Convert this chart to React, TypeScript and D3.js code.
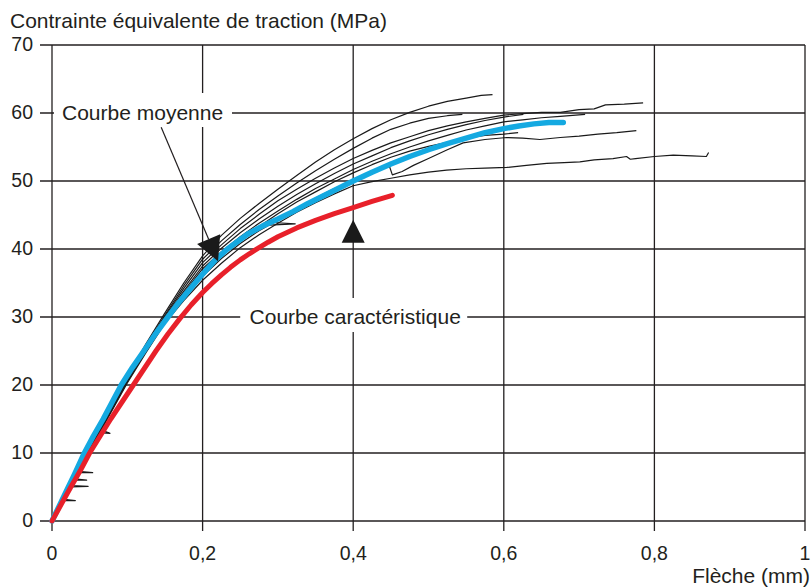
import React from "react";
import * as d3 from "d3";

// Individual flexural test curves: [deflection (mm), equivalent tensile stress (MPa)]
const testA: [number, number][] = [[0,0],[0.025,5.4],[0.05,10.9],[0.075,16.2],[0.1,21.3],[0.125,26.1],[0.15,30.6],[0.175,35],[0.2,39],[0.225,42],[0.25,44.5],[0.275,46.7],[0.3,48.8],[0.325,50.8],[0.35,52.8],[0.375,54.6],[0.4,56.2],[0.425,57.7],[0.45,59],[0.475,60.1],[0.5,61],[0.525,61.7],[0.55,62.2],[0.57,62.6],[0.585,62.7]];
const testB: [number, number][] = [[0,0],[0.025,5.4],[0.05,10.8],[0.075,16],[0.1,21.1],[0.125,25.8],[0.15,30.3],[0.175,34.6],[0.2,38.5],[0.225,41.2],[0.25,43.6],[0.275,45.8],[0.3,47.8],[0.325,49.7],[0.35,51.5],[0.375,53.2],[0.4,54.8],[0.425,56.3],[0.45,57.6],[0.475,58.5],[0.5,59.2],[0.525,59.6],[0.545,59.8]];
const testC: [number, number][] = [[0,0],[0.025,5.3],[0.05,10.7],[0.075,15.9],[0.1,21],[0.125,25.6],[0.15,30.1],[0.175,34.2],[0.2,38],[0.225,40.6],[0.25,43],[0.275,45.1],[0.3,47.1],[0.325,48.8],[0.35,50.4],[0.375,51.9],[0.4,53.3],[0.425,54.5],[0.45,55.6],[0.475,56.5],[0.5,57.4],[0.525,58.1],[0.55,58.7],[0.575,59.2],[0.6,59.7],[0.625,59.9],[0.65,60.1],[0.675,60.1],[0.7,60.5],[0.72,60.6],[0.735,61.2],[0.76,61.3],[0.785,61.5]];
const testD: [number, number][] = [[0,0],[0.025,5.2],[0.029,6],[0.046,6],[0.03,6.2],[0.05,10.5],[0.075,15.7],[0.1,20.8],[0.125,25.3],[0.15,29.7],[0.175,33.5],[0.2,37.1],[0.225,39.6],[0.25,41.8],[0.275,43.8],[0.3,45.6],[0.325,47.3],[0.35,48.9],[0.375,50.3],[0.4,51.7],[0.425,52.9],[0.45,54],[0.475,55],[0.5,55.9],[0.525,56.7],[0.55,57.5],[0.575,58.1],[0.6,58.7],[0.625,59],[0.65,59.3],[0.675,59.5],[0.708,59.8]];
const testE: [number, number][] = [[0,0],[0.025,5],[0.034,7.1],[0.054,7.1],[0.035,7.3],[0.05,10.3],[0.075,15.5],[0.1,20.5],[0.125,25],[0.15,29.3],[0.175,32.8],[0.2,36],[0.225,38.6],[0.25,40.8],[0.275,42.7],[0.288,43.5],[0.323,43.7],[0.293,43.9],[0.3,44.2],[0.325,45.9],[0.35,47.5],[0.375,48.9],[0.4,50.1],[0.425,51.3],[0.448,52.2],[0.452,50.9],[0.465,51.4],[0.48,52.3],[0.5,53.3],[0.525,54.6],[0.546,55.6],[0.575,56.1],[0.604,56.4],[0.625,56.3],[0.648,56.1],[0.675,56.4],[0.7,56.6],[0.725,56.9],[0.75,57.1],[0.776,57.4]];
const testF: [number, number][] = [[0,0],[0.015,3],[0.031,3],[0.016,3.2],[0.025,4.9],[0.05,10.2],[0.075,15.3],[0.1,20.3],[0.125,24.8],[0.15,29.1],[0.175,32.4],[0.2,35.4],[0.225,37.9],[0.25,40.2],[0.275,42.1],[0.3,43.8],[0.325,45.4],[0.35,46.8],[0.375,48.1],[0.4,49.3],[0.425,49.9],[0.45,50.4],[0.475,50.9],[0.5,51.3],[0.524,51.6],[0.55,51.8],[0.575,51.9],[0.604,52],[0.63,52.3],[0.657,52.6],[0.68,52.7],[0.701,52.8],[0.72,53.1],[0.745,53.3],[0.763,53.6],[0.768,53.2],[0.775,53.3],[0.8,53.6],[0.825,53.8],[0.85,53.7],[0.869,53.6],[0.872,54.2]];
const testG: [number, number][] = [[0,0],[0.025,5],[0.048,5.1],[0.026,5.2],[0.05,10.4],[0.075,15.6],[0.1,20.6],[0.125,25.1],[0.15,29.5],[0.175,33.1],[0.2,36.6],[0.225,39],[0.25,41.3],[0.275,43.3],[0.3,45.2],[0.325,46.9],[0.35,48.4],[0.375,49.9],[0.4,51.2],[0.425,52.4],[0.45,53.5],[0.475,54.4],[0.5,55.1],[0.525,55.7],[0.55,56.3],[0.575,56.7],[0.6,56.9],[0.619,57.1]];
const testH: [number, number][] = [[0,0],[0.025,5.3],[0.05,10.6],[0.062,13],[0.077,12.9],[0.065,13.4],[0.075,15.8],[0.1,20.9],[0.125,25.5],[0.15,29.9],[0.175,33.8],[0.2,37.5],[0.225,40.1],[0.25,42.4],[0.275,44.4],[0.3,46.3],[0.325,48],[0.35,49.6],[0.375,51.1],[0.4,52.5],[0.425,53.7],[0.45,54.9],[0.475,55.9],[0.5,56.8],[0.525,57.6],[0.55,58.3],[0.575,58.9],[0.6,59.4],[0.626,59.8]];

// Mean curve
const meanCurve: [number, number][] = [[0,0],[0.01,2.3],[0.02,4.6],[0.03,6.9],[0.043,10],[0.055,12.5],[0.068,15],[0.08,17.5],[0.092,20],[0.107,22.6],[0.122,25],[0.138,27.6],[0.154,30],[0.166,31.8],[0.178,33.4],[0.19,35],[0.2,36.3],[0.216,38.3],[0.233,40],[0.26,42.2],[0.28,43.4],[0.3,44.4],[0.32,45.5],[0.34,46.7],[0.36,47.8],[0.38,48.9],[0.4,50],[0.425,51.3],[0.45,52.5],[0.475,53.6],[0.5,54.6],[0.525,55.5],[0.55,56.3],[0.575,57.1],[0.6,57.7],[0.62,58.1],[0.64,58.4],[0.66,58.6],[0.679,58.6]];

// Characteristic curve
const charCurve: [number, number][] = [[0,0],[0.013,2.6],[0.025,5],[0.038,7.5],[0.05,10],[0.064,12.5],[0.078,15],[0.093,17.5],[0.108,20],[0.123,22.5],[0.138,25],[0.154,27.5],[0.17,29.8],[0.185,31.8],[0.2,33.6],[0.212,34.9],[0.225,36.2],[0.237,37.3],[0.25,38.4],[0.262,39.3],[0.275,40.2],[0.287,41],[0.3,41.8],[0.325,43.1],[0.35,44.2],[0.375,45.2],[0.4,46.1],[0.425,47],[0.452,47.9]];

const testCurves = [testA, testB, testC, testD, testE, testF, testG, testH];

const xTicks = [0, 0.2, 0.4, 0.6, 0.8, 1];
const yTicks = [0, 10, 20, 30, 40, 50, 60, 70];

const yTitle = "Contrainte équivalente de traction (MPa)";
const xTitle = "Flèche (mm)";
const meanLabel = "Courbe moyenne";
const charLabel = "Courbe caractéristique";

const W = 812;
const H = 587;
const FONT = "'Liberation Sans', Arial, Helvetica, sans-serif";
const INK = "#231f20";

export default function App() {
  const x = d3.scaleLinear().domain([0, 1]).range([52, 805]);
  const y = d3.scaleLinear().domain([0, 70]).range([521, 45]);
  const line = d3
    .line<[number, number]>()
    .x((d) => x(d[0]))
    .y((d) => y(d[1]));
  const fmt = (v: number) => (v === 0 || v === 1 ? String(v) : String(v).replace(".", ","));

  // Annotation geometry (data coordinates)
  const meanTip: [number, number] = [0.2205, 38.2];
  const meanStart: [number, number] = [0.145, 57.9];
  const tx = x(meanTip[0]);
  const ty = y(meanTip[1]);
  const sx = x(meanStart[0]);
  const sy = y(meanStart[1]);
  const ang = Math.atan2(ty - sy, tx - sx);
  const headLen = 24;
  const headHalf = 12.5;
  const bx = tx - headLen * Math.cos(ang);
  const by = ty - headLen * Math.sin(ang);
  const px = -Math.sin(ang);
  const py = Math.cos(ang);
  const meanHead = `${tx},${ty} ${bx + headHalf * px},${by + headHalf * py} ${bx - headHalf * px},${by - headHalf * py}`;

  const cTipX = x(0.4);
  const cTipY = y(44.3);
  const charHead = `${cTipX},${cTipY} ${cTipX - 11.5},${cTipY + 23} ${cTipX + 11.5},${cTipY + 23}`;

  return (
    <svg
      width={W}
      height={H}
      style={{ position: "absolute", left: 0, top: 0, background: "#fff" }}
      fontFamily={FONT}
    >
      <rect width={W} height={H} fill="#fff" />
      {/* grid and axes */}
      <g stroke={INK} strokeWidth={1.3}>
        {yTicks.map((t) => (
          <line key={"h" + t} x1={40} x2={x(1)} y1={y(t)} y2={y(t)} />
        ))}
        {xTicks.map((t) => (
          <line key={"v" + t} x1={x(t)} x2={x(t)} y1={y(70)} y2={y(0) + 10} />
        ))}
      </g>
      {/* label boxes masking the grid */}
      <rect x={x(0) + 2} y={y(60) - 20} width={178} height={34} fill="#fff" />
      <rect x={x(0.4) - 113} y={y(30) - 19} width={227} height={34} fill="#fff" />

      {/* test curves */}
      <g fill="none" stroke="#1a1a1a" strokeWidth={1.2} strokeLinejoin="round">
        {testCurves.map((c, i) => (
          <path key={i} d={line(c) || ""} />
        ))}
      </g>
      <path d={line(meanCurve) || ""} fill="none" stroke="#14a9e1" strokeWidth={5.5} strokeLinecap="round" strokeLinejoin="round" />
      <path d={line(charCurve) || ""} fill="none" stroke="#e8202a" strokeWidth={5} strokeLinecap="round" strokeLinejoin="round" />

      {/* annotations */}
      <line x1={sx} y1={sy} x2={bx} y2={by} stroke={INK} strokeWidth={1.2} />
      <polygon points={meanHead} fill="#1a1a1a" />
      <polygon points={charHead} fill="#1a1a1a" />
      <text x={x(0) + 10} y={y(60) + 6.5} fontSize={21} fill={INK}>
        {meanLabel}
      </text>
      <text x={x(0.4) + 2} y={y(30) + 7} fontSize={21} fill={INK} textAnchor="middle">
        {charLabel}
      </text>

      {/* tick labels */}
      <g fontSize={19.5} fill={INK}>
        {yTicks.map((t) => (
          <text key={"yl" + t} x={33} y={y(t) + 6} textAnchor="end">
            {fmt(t)}
          </text>
        ))}
        {xTicks.map((t) => (
          <text key={"xl" + t} x={x(t)} y={560} textAnchor="middle">
            {fmt(t)}
          </text>
        ))}
      </g>
      <text x={10} y={28} fontSize={21} fill={INK}>
        {yTitle}
      </text>
      <text x={810} y={583} fontSize={21} fill={INK} textAnchor="end">
        {xTitle}
      </text>
    </svg>
  );
}
